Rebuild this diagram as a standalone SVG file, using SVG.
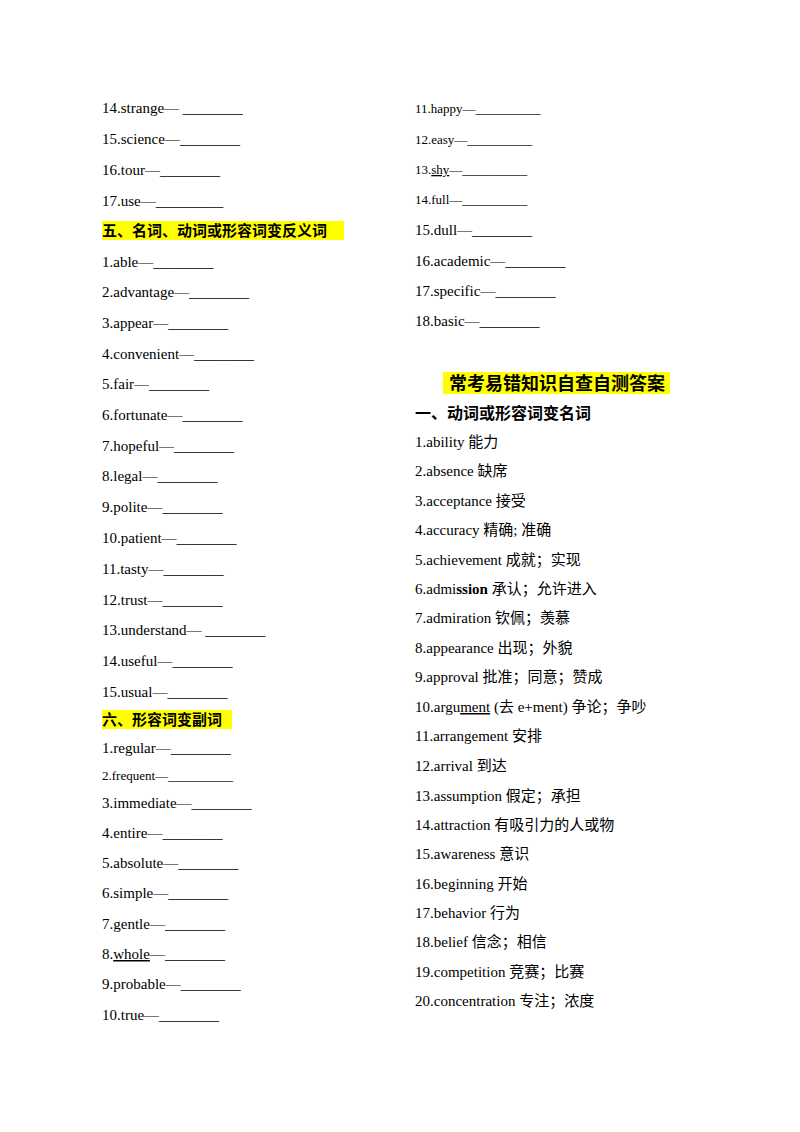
<svg xmlns="http://www.w3.org/2000/svg" width="800" height="1132" viewBox="0 0 800 1132">
<style>
text{font-family:"Liberation Serif","Noto Sans CJK SC",serif;font-size:15px;fill:#000}
.s{font-size:13px}
.h{font-family:"Noto Sans CJK SC",sans-serif;font-weight:bold;font-size:15px}
.hl{fill:#ffff00}
</style>
<rect width="800" height="1132" fill="#fff"/>
<rect class="hl" x="102" y="221" width="242" height="19"/>
<rect class="hl" x="102" y="710" width="130" height="19"/>
<rect class="hl" x="443" y="372" width="227" height="22"/>
<g>
<text x="102" y="113">14.strange—  ________</text>
<text x="102" y="144">15.science—________</text>
<text x="102" y="175">16.tour—________</text>
<text x="102" y="206">17.use—_________</text>
<text class="h" x="102" y="236">五、名词、动词或形容词变反义词</text>
<text x="102" y="267">1.able—________</text>
<text x="102" y="297">2.advantage—________</text>
<text x="102" y="328">3.appear—________</text>
<text x="102" y="359">4.convenient—________</text>
<text x="102" y="389">5.fair—________</text>
<text x="102" y="420">6.fortunate—________</text>
<text x="102" y="451">7.hopeful—________</text>
<text x="102" y="481">8.legal—________</text>
<text x="102" y="512">9.polite—________</text>
<text x="102" y="543">10.patient—________</text>
<text x="102" y="574">11.tasty—________</text>
<text x="102" y="605">12.trust—________</text>
<text x="102" y="635">13.understand—  ________</text>
<text x="102" y="666">14.useful—________</text>
<text x="102" y="697">15.usual—________</text>
<text class="h" x="102" y="725">六、形容词变副词</text>
<text x="102" y="753">1.regular—________</text>
<text class="s" x="102" y="780">2.frequent—__________</text>
<text x="102" y="808">3.immediate—________</text>
<text x="102" y="838">4.entire—________</text>
<text x="102" y="868">5.absolute—________</text>
<text x="102" y="898">6.simple—________</text>
<text x="102" y="929">7.gentle—________</text>
<text x="102" y="959">8.<tspan text-decoration="underline">whole</tspan>—________</text>
<text x="102" y="989">9.probable—________</text>
<text x="102" y="1020">10.true—________</text>
</g>
<g>
<text class="s" x="415" y="113">11.happy—__________</text>
<text class="s" x="415" y="144">12.easy—__________</text>
<text class="s" x="415" y="174">13.<tspan text-decoration="underline">shy</tspan>—__________</text>
<text class="s" x="415" y="204">14.full—__________</text>
<text x="415" y="235">15.dull—________</text>
<text x="415" y="266">16.academic—________</text>
<text x="415" y="296">17.specific—________</text>
<text x="415" y="326">18.basic—________</text>
<text class="h" x="557" y="390" text-anchor="middle" font-size="18" style="font-size:18px">常考易错知识自查自测答案</text>
<text class="h" x="415" y="419" style="font-size:16px">一、动词或形容词变名词</text>
<text x="415" y="447">1.ability  能力</text>
<text x="415" y="476">2.absence  缺席</text>
<text x="415" y="506">3.acceptance  接受</text>
<text x="415" y="535">4.accuracy  精确; 准确</text>
<text x="415" y="565">5.achievement  成就；实现</text>
<text x="415" y="594">6.admi<tspan font-weight="bold">ssion</tspan>  承认；允许进入</text>
<text x="415" y="623">7.admiration  钦佩；羡慕</text>
<text x="415" y="653">8.appearance  出现；外貌</text>
<text x="415" y="682">9.approval  批准；同意；赞成</text>
<text x="415" y="712">10.argu<tspan text-decoration="underline">ment</tspan>  (去 e+ment)  争论；争吵</text>
<text x="415" y="741">11.arrangement  安排</text>
<text x="415" y="771">12.arrival 到达</text>
<text x="415" y="801">13.assumption  假定；承担</text>
<text x="415" y="830">14.attraction  有吸引力的人或物</text>
<text x="415" y="859">15.awareness  意识</text>
<text x="415" y="889">16.beginning  开始</text>
<text x="415" y="918">17.behavior  行为</text>
<text x="415" y="947">18.belief  信念；相信</text>
<text x="415" y="977">19.competition  竞赛；比赛</text>
<text x="415" y="1006">20.concentration  专注；浓度</text>
</g>
</svg>
